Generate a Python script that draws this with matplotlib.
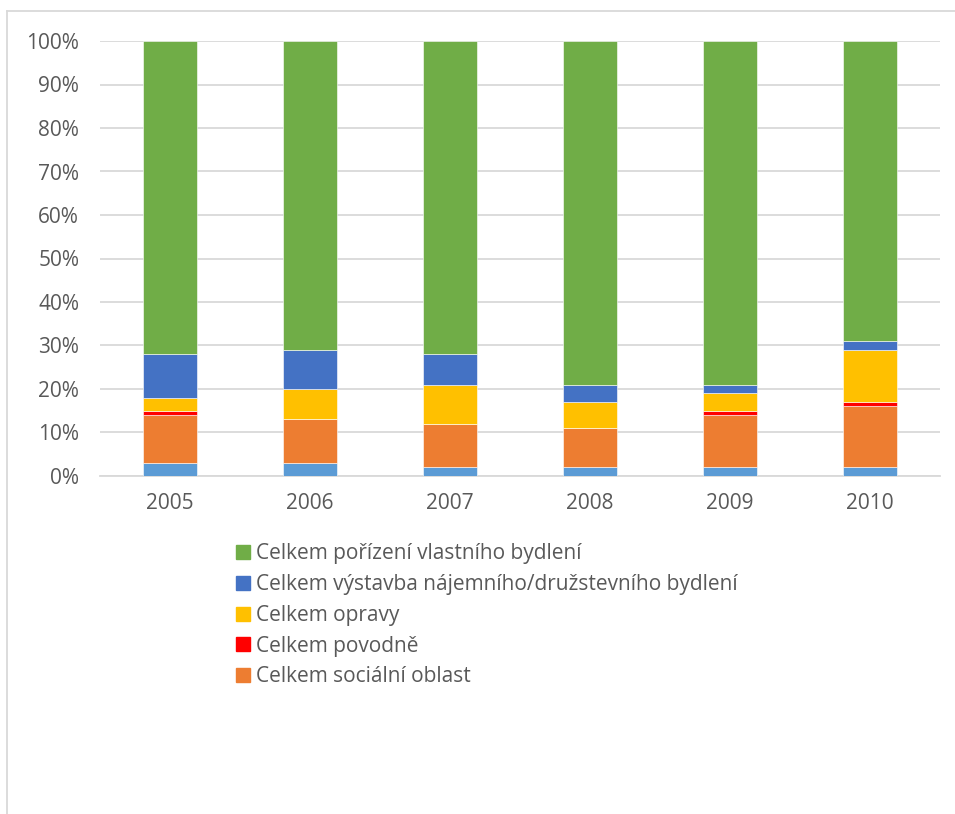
import matplotlib
matplotlib.use('Agg')
import matplotlib.pyplot as plt
import numpy as np
from matplotlib.lines import Line2D
from matplotlib.ticker import PercentFormatter

plt.rcParams['font.family'] = ['Open Sans', 'DejaVu Sans']

years = ['2005', '2006', '2007', '2008', '2009', '2010']

# shares in %, bottom to top
ostatni = [3, 3, 2, 2, 2, 2]
socialni = [11, 10, 10, 9, 12, 14]
povodne = [1, 0, 0, 0, 1, 1]
opravy = [3, 7, 9, 6, 4, 12]
vystavba = [10, 9, 7, 4, 2, 2]
porizeni = [72, 71, 72, 79, 79, 69]

series = [
    (ostatni, '#5b9bd5', None),
    (socialni, '#ed7d31', 'Celkem sociální oblast'),
    (povodne, '#ff0000', 'Celkem povodně'),
    (opravy, '#ffc000', 'Celkem opravy'),
    (vystavba, '#4472c4', 'Celkem výstavba nájemního/družstevního bydlení'),
    (porizeni, '#70ad47', 'Celkem pořízení vlastního bydlení'),
]

text_col = '#595959'
grid_col = '#d9d9d9'

fig = plt.figure(figsize=(9.55, 8.14), dpi=100)
ax = fig.add_axes([100 / 955, 1 - 476 / 814, 840 / 955, 435 / 814])

x = np.arange(len(years))
bottom = np.zeros(len(years))
handles = []
for vals, col, name in series:
    vals = np.array(vals, dtype=float)
    ax.bar(x, vals, 0.39, bottom=bottom, color=col, edgecolor='white', linewidth=0.4, zorder=3)
    bottom += vals
    if name:
        handles.append((col, name))

ax.set_xlim(-0.5, len(years) - 0.5)
ax.set_ylim(0, 100)
ax.set_yticks(np.arange(0, 101, 10))
ax.yaxis.set_major_formatter(PercentFormatter(decimals=0))
ax.set_xticks(x)
ax.set_xticklabels(years)
ax.grid(axis='y', color=grid_col, linewidth=1.3, zorder=0)
for s in ax.spines.values():
    s.set_visible(False)
ax.spines['bottom'].set_visible(True)
ax.spines['bottom'].set_color(grid_col)
ax.spines['bottom'].set_linewidth(1.3)
ax.tick_params(length=0, labelsize=15, colors=text_col)
ax.tick_params(axis='x', pad=12)
ax.tick_params(axis='y', pad=15)

leg_handles = [Line2D([0], [0], marker='s', linestyle='none', markersize=10,
                      markerfacecolor=c, markeredgecolor=c) for c, n in reversed(handles)]
leg_labels = [n for c, n in reversed(handles)]
leg = fig.legend(leg_handles, leg_labels, loc='upper left', bbox_to_anchor=(227 / 955, 1 - 535 / 814),
                 frameon=False, fontsize=15, handlelength=0.7, handletextpad=0.3,
                 labelspacing=0.47, borderaxespad=0)
for t in leg.get_texts():
    t.set_color(text_col)

# chart area border
fig.add_artist(Line2D([7 / 955, 1], [1 - 11 / 814, 1 - 11 / 814], color=grid_col, linewidth=1.3))
fig.add_artist(Line2D([7 / 955, 7 / 955], [0, 1 - 11 / 814], color=grid_col, linewidth=1.3))

fig.savefig('out.png', dpi=100)
